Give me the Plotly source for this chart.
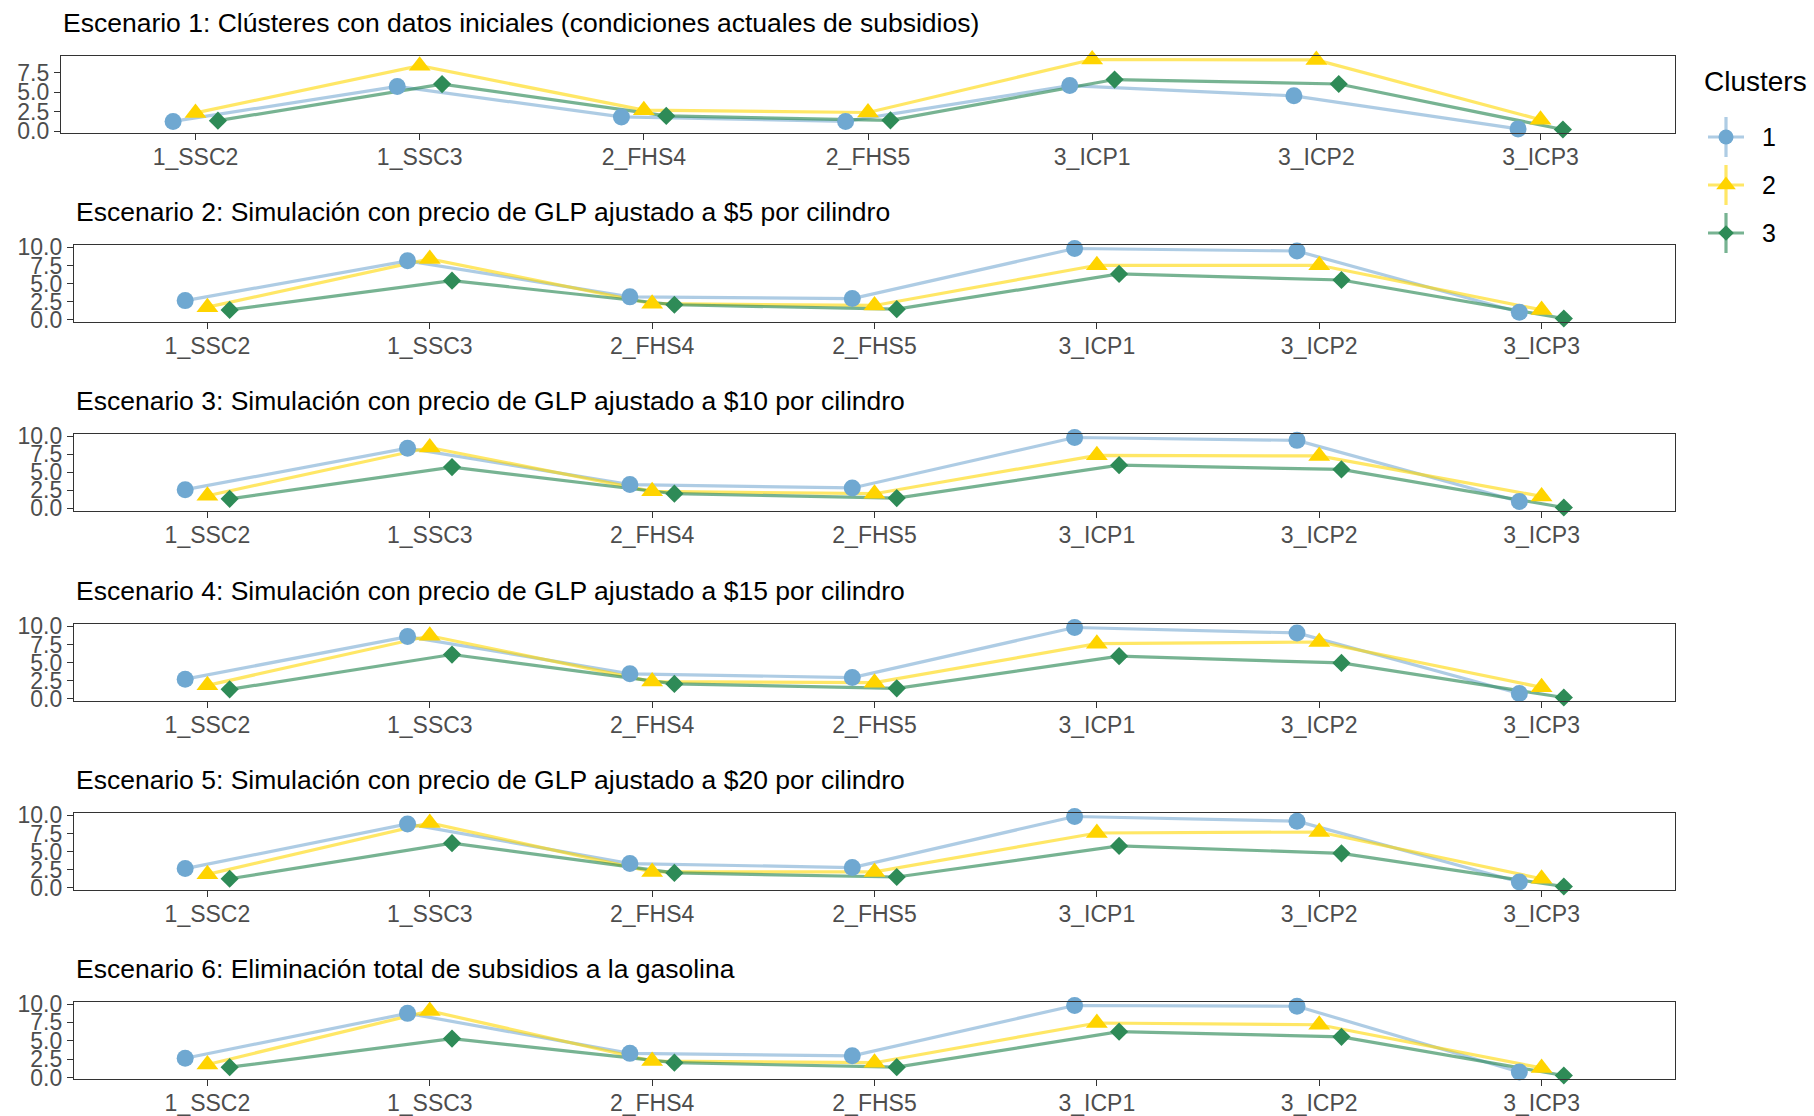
import plotly.graph_objects as go

W, H = 1814, 1116

categories = ["1_SSC2", "1_SSC3", "2_FHS4", "2_FHS5", "3_ICP1", "3_ICP2", "3_ICP3"]
cluster_names = ["1", "2", "3"]
titles = [
    "Escenario 1: Clústeres con datos iniciales (condiciones actuales de subsidios)",
    "Escenario 2: Simulación con precio de GLP ajustado a $5 por cilindro",
    "Escenario 3: Simulación con precio de GLP ajustado a $10 por cilindro",
    "Escenario 4: Simulación con precio de GLP ajustado a $15 por cilindro",
    "Escenario 5: Simulación con precio de GLP ajustado a $20 por cilindro",
    "Escenario 6: Eliminación total de subsidios a la gasolina",
]

esc1_c1 = [1.26, 5.75, 1.83, 1.26, 5.85, 4.54, 0.30]
esc1_c2 = [2.35, 8.40, 2.70, 2.40, 9.20, 9.15, 1.48]
esc1_c3 = [1.35, 6.05, 1.96, 1.40, 6.63, 6.06, 0.22]

esc2_c1 = [2.62, 8.14, 3.14, 2.90, 9.85, 9.50, 1.00]
esc2_c2 = [1.71, 8.40, 2.19, 1.95, 7.52, 7.52, 1.33]
esc2_c3 = [1.33, 5.38, 2.05, 1.43, 6.33, 5.48, 0.14]

esc3_c1 = [2.58, 8.36, 3.29, 2.82, 9.85, 9.45, 0.94]
esc3_c2 = [1.74, 8.45, 2.35, 2.02, 7.37, 7.28, 1.64]
esc3_c3 = [1.31, 5.73, 2.02, 1.41, 6.00, 5.40, 0.10]

esc4_c1 = [2.68, 8.59, 3.43, 2.91, 9.85, 9.10, 0.70]
esc4_c2 = [1.83, 8.70, 2.35, 2.20, 7.60, 7.84, 1.55]
esc4_c3 = [1.27, 6.10, 2.02, 1.41, 5.87, 4.93, 0.14]

esc5_c1 = [2.66, 8.83, 3.36, 2.80, 9.85, 9.20, 0.80]
esc5_c2 = [1.87, 8.97, 2.20, 2.20, 7.57, 7.71, 1.26]
esc5_c3 = [1.26, 6.17, 2.06, 1.50, 5.79, 4.77, 0.19]

esc6_c1 = [2.63, 8.73, 3.29, 2.96, 9.80, 9.70, 0.75]
esc6_c2 = [1.78, 9.06, 2.25, 2.02, 7.42, 7.18, 1.31]
esc6_c3 = [1.41, 5.30, 2.02, 1.41, 6.24, 5.54, 0.28]

scenarios = [
    [esc1_c1, esc1_c2, esc1_c3],
    [esc2_c1, esc2_c2, esc2_c3],
    [esc3_c1, esc3_c2, esc3_c3],
    [esc4_c1, esc4_c2, esc4_c3],
    [esc5_c1, esc5_c2, esc5_c3],
    [esc6_c1, esc6_c2, esc6_c3],
]

y_ticks_1 = [0, 2.5, 5, 7.5]
y_ticks = [0, 2.5, 5, 7.5, 10]

marker_colors = ["#6FA8D1", "#FFD400", "#2E8B57"]
line_colors = ["rgba(120,170,210,0.6)", "rgba(255,215,0,0.6)", "rgba(46,139,87,0.65)"]
symbols = ["circle", "triangle-up", "diamond"]
sizes = [17, 19, 14]
dodge = [-0.1, 0.0, 0.1]

FONT = "Arial, Liberation Sans, sans-serif"

# positions in screenshot pixels
panel_tops = [56, 245, 434, 624, 813, 1002]
panel_h = 77
panel_lefts = [61, 74, 74, 74, 74, 74]
panel_right = 1675


def px(x):
    return x / W


def py(y):
    return 1 - y / H


fig = go.Figure()
annotations = []

for i, series in enumerate(scenarios):
    ax = "" if i == 0 else str(i + 1)
    xref, yref = "x" + ax, "y" + ax
    for k, vals in enumerate(series):
        xs = [j + 1 + dodge[k] for j in range(len(categories))]
        fig.add_trace(go.Scatter(
            x=xs, y=vals, mode="lines", xaxis=xref, yaxis=yref,
            line=dict(color=line_colors[k], width=3.2), showlegend=False,
            hoverinfo="skip"))
    for k, vals in enumerate(series):
        xs = [j + 1 + dodge[k] for j in range(len(categories))]
        fig.add_trace(go.Scatter(
            x=xs, y=vals, mode="markers", xaxis=xref, yaxis=yref,
            marker=dict(color=marker_colors[k], symbol=symbols[k], size=sizes[k],
                        line=dict(width=0)),
            name=cluster_names[k], showlegend=False, cliponaxis=False))
    allv = [v for s in series for v in s]
    lo, hi = min(allv), max(allv)
    pad = 0.05 * (hi - lo)
    top = panel_tops[i]
    ydom = [py(top + panel_h), py(top)]
    xdom = [px(panel_lefts[i]), px(panel_right)]
    axis_common = dict(showline=True, mirror=True, linecolor="#333333", linewidth=1.4,
                       showgrid=False, zeroline=False, ticks="outside", ticklen=6,
                       tickwidth=1.4, tickcolor="#333333", automargin=False,
                       tickfont=dict(family=FONT, size=23, color="#4D4D4D"))
    fig.layout["xaxis" + ax] = dict(
        domain=xdom, anchor=yref, range=[0.4, 7.6],
        tickmode="array", tickvals=list(range(1, len(categories) + 1)),
        ticktext=categories, ticklabelstandoff=-3, **axis_common)
    yt = y_ticks_1 if i == 0 else y_ticks
    fig.layout["yaxis" + ax] = dict(
        domain=ydom, anchor=xref, range=[lo - pad, hi + pad],
        tickmode="array", tickvals=yt, ticktext=[f"{v:.1f}" for v in yt],
        **axis_common)
    annotations.append(dict(
        text=titles[i], xref="paper", yref="paper", x=px(panel_lefts[i]),
        y=py(top - 33), xanchor="left", yanchor="middle", showarrow=False,
        font=dict(family=FONT, size=26.5, color="black")))

# Legend drawn on a small pixel-space axis in the legend area
LX0, LX1, LY0, LY1 = 1700, 1752, 110, 262
leg_x = 1726
leg_ys = [137, 185, 233]
for k in range(3):
    cy = leg_ys[k]
    fig.add_trace(go.Scatter(
        x=[leg_x - 18, leg_x + 18, None, leg_x, leg_x], y=[cy, cy, None, cy - 20, cy + 20],
        mode="lines", xaxis="x7", yaxis="y7", line=dict(color=line_colors[k], width=3.2),
        showlegend=False, hoverinfo="skip"))
    fig.add_trace(go.Scatter(
        x=[leg_x], y=[cy], mode="markers", xaxis="x7", yaxis="y7",
        marker=dict(color=marker_colors[k], symbol=symbols[k], size=sizes[k] - 2),
        showlegend=False, hoverinfo="skip", cliponaxis=False))
    annotations.append(dict(
        text=cluster_names[k], xref="paper", yref="paper", x=px(1760), y=py(cy),
        xanchor="left", yanchor="middle", showarrow=False,
        font=dict(family=FONT, size=25, color="black")))
annotations.append(dict(
    text="Clusters", xref="paper", yref="paper", x=px(1702), y=py(82),
    xanchor="left", yanchor="middle", showarrow=False,
    font=dict(family=FONT, size=28, color="black")))

fig.layout["xaxis7"] = dict(domain=[px(LX0), px(LX1)], range=[LX0, LX1], visible=False,
                            fixedrange=True, anchor="y7")
fig.layout["yaxis7"] = dict(domain=[py(LY1), py(LY0)], range=[LY1, LY0],
                            visible=False, fixedrange=True, anchor="x7")

fig.update_layout(
    width=W, height=H, margin=dict(l=0, r=0, t=0, b=0, autoexpand=False),
    paper_bgcolor="white", plot_bgcolor="rgba(0,0,0,0)",
    annotations=annotations, showlegend=False,
    font=dict(family=FONT),
)

fig.write_html(
    "out.html",
    config={"displayModeBar": False},
    post_script="document.body.style.margin='0px';document.body.style.overflow='hidden';",
)
